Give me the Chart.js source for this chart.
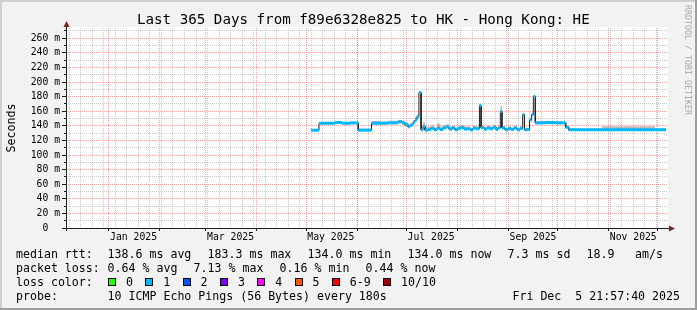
<!DOCTYPE html>
<html>
<head>
<meta charset="utf-8">
<script src="https://cdn.jsdelivr.net/npm/chart.js@4.4.0/dist/chart.umd.min.js"></script>
<style>
  html, body { margin: 0; padding: 0; background: #f2f2f2; }
  #wrap { position: relative; width: 697px; height: 310px; overflow: hidden; font-family: 'DejaVu Sans Mono', monospace; color: #000; }
  #wrap canvas { position: absolute; left: 0; top: 0; }
  .t { position: absolute; white-space: pre; font-size: 11.6px; line-height: 14px; }
  .box { position: absolute; width: 6px; height: 6px; border: 1px solid #000; }
  #title { position: absolute; left: 137px; top: 11px; font-size: 14.2px; line-height: 16px; white-space: pre; }
  #ylab { position: absolute; left: -19px; top: 121px; width: 60px; text-align: center; font-size: 11.6px; line-height: 14px; transform: rotate(-90deg); }
  #wm { position: absolute; left: 633px; top: 55px; width: 110px; text-align: center; font-size: 8.3px; line-height: 10px; color: #a8a8a8; transform: rotate(90deg); white-space: pre; }
</style>
</head>
<body>
<div id="wrap">
  <canvas id="rttChart" width="697" height="310"></canvas>
  <div id="title">Last 365 Days from f89e6328e825 to HK - Hong Kong: HE</div>
  <div id="ylab">Seconds</div>
  <div id="wm">RRDTOOL / TOBI OETIKER</div>
  <div id="legend"></div>
</div>
<script>
// window starts Fri Dec 5 21:57:40 2024, 365 days
const startTime = Date.UTC(2024, 11, 5, 21, 57, 40);

// days since window start where each median step begins
const stepDays = [149.0, 153.9, 158.8, 163.6, 167.9, 172.8, 177.8, 185.9, 191.0, 195.9,
  202.0, 204.4, 206.2, 208.1, 209.3, 211.1, 212.3, 213.5, 214.7, 216.0,
  217.2, 218.4, 220.2, 222.0, 223.9, 225.7, 227.5, 229.3, 231.2, 233.0,
  234.8, 236.6, 238.5, 240.3, 242.1, 243.9, 245.8, 247.6, 249.4, 251.5,
  252.5, 254.3, 256.1, 257.9, 259.8, 261.6, 262.8, 264.2, 265.2, 267.1,
  268.9, 270.7, 272.5, 274.4, 276.2, 277.8, 278.9, 280.4, 282.0, 283.2,
  284.3, 285.5, 291.4, 297.5, 304.0, 305.8, 325.9, 358.3, 365.0];

// median rtt in ms
const medianMs = [134, 143.5, 143.5, 144.5, 143.5, 144, 134, 143.5, 143.5, 144,
  145.5, 144, 141.5, 138.5, 141, 145, 148, 152.5, 185.5, 134.5,
  139, 134, 135, 136.5, 134.5, 137, 135, 137, 138.5, 135.5,
  137, 134.5, 136.5, 137.5, 135.5, 136, 134.5, 137, 136, 167.5,
  137.5, 135.5, 137, 136, 138, 135, 137, 159.5, 137, 134.5,
  136, 135, 137, 134.5, 136.5, 155, 134.5, 135, 148, 155,
  180, 144, 144.5, 144, 138, 134.5, 134.5, 134.5, 134.5];

// upper and lower edge of the smoke (ping spread) in ms
const smokeHiMs = [135.5, 145, 145, 146.5, 145, 145.5, 136, 146.5, 146, 147,
  148, 146.5, 145, 141, 143, 147.5, 152, 156, 187, 141,
  145, 139, 139, 140.5, 138, 143, 139, 141, 142, 139,
  140, 138, 140, 141, 139, 139, 137.5, 140, 139, 170,
  140, 138, 140, 139, 141, 138, 140, 167, 140, 137,
  139, 138, 140, 137, 139, 158, 136.5, 137, 150, 157,
  182, 146.5, 146.5, 146, 140, 136, 139.5, 136, 136];
const smokeLoMs = [133.5, 142.5, 142.5, 143.5, 142.5, 143, 133.5, 142.5, 142.5, 143,
  144.5, 143, 140.5, 137.5, 140, 144, 147, 151.5, 184, 133.5,
  138, 133, 134, 135.5, 133.5, 136, 134, 136, 137.5, 134.5,
  136, 133.5, 135.5, 136.5, 134.5, 135, 133.5, 136, 135, 166,
  136.5, 134.5, 136, 135, 137, 134, 136, 158, 136, 133.5,
  135, 134, 136, 133.5, 135.5, 153.5, 133.5, 134, 147, 154,
  178.5, 143, 143.5, 143, 137, 133.5, 133.5, 133.5, 133.5];

const yTickMs = [0, 20, 40, 60, 80, 100, 120, 140, 160, 180, 200, 220, 240, 260];
const monthLabels = ['Jan 2025', 'Mar 2025', 'May 2025', 'Jul 2025', 'Sep 2025', 'Nov 2025'];
const monthLabelIdx = [0, 2, 4, 6, 8, 10];

const lossColors = ['#26ff00', '#00b8ff', '#0059ff', '#7e00ff', '#ff00ff', '#ff5500', '#ff0000', '#a10000'];
const lossLabels = ['0', '1', '2', '3', '4', '5', '6-9', '10/10'];

const dayOf = (y, m, d) => (Date.UTC(y, m, d) - startTime) / 864e5;
const labelDays = monthLabelIdx.map(m => dayOf(2025, m, 16));
const monthStarts = [];
for (let m = 0; m < 12; m++) monthStarts.push(dayOf(2025, m, 1));
const weekStarts = [];
for (let d = dayOf(2024, 11, 8); d < 365; d += 7) weekStarts.push(d);

// turn step starts into explicit horizontal pieces
function stepPoints(vals) {
  const pts = [];
  for (let i = 0; i < stepDays.length - 1; i++) {
    pts.push({ x: stepDays[i], y: vals[i] });
    pts.push({ x: stepDays[i + 1], y: vals[i] });
  }
  return pts;
}

const W = 697, H = 310, plotRight = 668;
const crisp = p => Math.floor(p) + 0.5;

const rrdFrame = {
  id: 'rrdFrame',
  beforeDraw(chart) {
    const { ctx, chartArea: a, scales: { x, y } } = chart;
    ctx.save();
    ctx.fillStyle = '#f2f2f2';
    ctx.fillRect(0, 0, W, H);
    ctx.fillStyle = '#cfcfcf';
    ctx.fillRect(0, 0, W, 2);
    ctx.fillRect(0, 0, 2, H);
    ctx.fillStyle = '#9e9e9e';
    ctx.fillRect(0, H - 2, W, 2);
    ctx.fillRect(W - 2, 0, 2, H);
    ctx.fillStyle = '#ffffff';
    ctx.fillRect(a.left, a.top - 1, plotRight - a.left, a.bottom - a.top + 1);

    ctx.lineWidth = 1;
    ctx.setLineDash([1, 1]);
    // minor grid
    ctx.strokeStyle = 'rgba(143,143,143,0.45)';
    for (let v = 10; v < y.max; v += 20) {
      const py = crisp(y.getPixelForValue(v));
      ctx.beginPath(); ctx.moveTo(a.left, py); ctx.lineTo(plotRight, py); ctx.stroke();
    }
    weekStarts.forEach(d => {
      const px = crisp(x.getPixelForValue(d));
      ctx.beginPath(); ctx.moveTo(px, a.top); ctx.lineTo(px, a.bottom); ctx.stroke();
    });
    // major grid
    ctx.strokeStyle = 'rgba(222,79,79,0.5)';
    yTickMs.forEach(v => {
      if (v === 0) return;
      const py = crisp(y.getPixelForValue(v));
      ctx.beginPath(); ctx.moveTo(a.left, py); ctx.lineTo(plotRight, py); ctx.stroke();
    });
    monthStarts.forEach(d => {
      const px = crisp(x.getPixelForValue(d));
      ctx.beginPath(); ctx.moveTo(px, a.top); ctx.lineTo(px, a.bottom); ctx.stroke();
    });
    ctx.restore();
  },
  afterDatasetsDraw(chart) {
    const { ctx, chartArea: a, scales: { x, y } } = chart;
    ctx.save();
    ctx.lineWidth = 1;
    ctx.strokeStyle = '#1f1f1f';
    // tick marks
    yTickMs.forEach(v => {
      const py = crisp(y.getPixelForValue(v));
      ctx.beginPath(); ctx.moveTo(a.left - 4, py); ctx.lineTo(a.left, py); ctx.stroke();
    });
    for (let v = 10; v < y.max; v += 20) {
      const py = crisp(y.getPixelForValue(v));
      ctx.beginPath(); ctx.moveTo(a.left - 2, py); ctx.lineTo(a.left, py); ctx.stroke();
    }
    monthStarts.forEach(d => {
      const px = crisp(x.getPixelForValue(d));
      ctx.beginPath(); ctx.moveTo(px, a.bottom); ctx.lineTo(px, a.bottom + 3); ctx.stroke();
    });
    // axes
    const ax = crisp(a.left), ay = crisp(a.bottom);
    ctx.beginPath(); ctx.moveTo(ax, a.bottom + 3); ctx.lineTo(ax, a.top - 2); ctx.stroke();
    ctx.beginPath(); ctx.moveTo(a.left - 4, ay); ctx.lineTo(plotRight + 2, ay); ctx.stroke();
    // arrows
    ctx.fillStyle = '#801f1f';
    ctx.beginPath(); ctx.moveTo(ax - 3, a.top - 1); ctx.lineTo(ax + 3, a.top - 1); ctx.lineTo(ax, a.top - 7); ctx.closePath(); ctx.fill();
    ctx.beginPath(); ctx.moveTo(plotRight + 1, ay - 3); ctx.lineTo(plotRight + 1, ay + 3); ctx.lineTo(plotRight + 7, ay); ctx.closePath(); ctx.fill();
    ctx.restore();
  }
};

const tickFont = { family: "'DejaVu Sans Mono', monospace", size: 9.75 };

new Chart(document.getElementById('rttChart'), {
  type: 'line',
  data: {
    datasets: [
      { data: stepPoints(smokeLoMs), borderWidth: 0, pointRadius: 0, fill: false, order: 4 },
      { data: stepPoints(smokeHiMs), borderWidth: 0, pointRadius: 0, fill: '-1',
        backgroundColor: 'rgba(160,160,160,0.7)', order: 3 },
      { data: stepPoints(medianMs), borderColor: '#202020', borderWidth: 1, pointRadius: 0, fill: false, order: 2 },
      { data: stepPoints(medianMs), borderColor: lossColors[1], borderWidth: 3, pointRadius: 0, fill: false,
        borderCapStyle: 'butt', order: 1,
        segment: { borderColor: c => c.p0.parsed.y === c.p1.parsed.y ? lossColors[1] : 'rgba(0,0,0,0)' } }
    ]
  },
  options: {
    responsive: false,
    devicePixelRatio: 1,
    animation: false,
    events: [],
    layout: { padding: { left: 0, right: W - 666, top: 28, bottom: 62 } },
    plugins: { legend: { display: false }, tooltip: { enabled: false } },
    elements: { line: { tension: 0 } },
    scales: {
      x: {
        type: 'linear', min: 0, max: 365,
        grid: { display: false, drawTicks: false }, border: { display: false },
        afterFit: s => { s.height = 20; },
        afterBuildTicks: s => { s.ticks = labelDays.map(v => ({ value: v })); },
        ticks: { autoSkip: false, maxRotation: 0, minRotation: 0, padding: 4, color: '#000', font: tickFont,
          callback: (v, i) => monthLabels[i] }
      },
      y: {
        type: 'linear', min: 0, max: 274,
        grid: { display: false, drawTicks: false }, border: { display: false },
        afterFit: s => { s.width = 66; },
        afterBuildTicks: s => { s.ticks = yTickMs.map(v => ({ value: v })); },
        ticks: { autoSkip: false, padding: 6, color: '#000', font: tickFont,
          callback: v => v === 0 ? '0  ' : v + ' m' }
      }
    }
  },
  plugins: [rrdFrame]
});

// legend text below the graph
const legend = document.getElementById('legend');
function put(text, left, cy) {
  const el = document.createElement('div');
  el.className = 't';
  el.textContent = text;
  el.style.left = left + 'px';
  el.style.top = (cy - 7) + 'px';
  legend.appendChild(el);
  return el;
}
put('median rtt:', 16, 254);
[['138.6 ms avg', 107.6], ['183.3 ms max', 207.6], ['134.0 ms min', 307.6], ['134.0 ms now', 407.6],
 ['7.3 ms sd', 507.6], ['18.9', 586.6], ['am/s', 635]].forEach(([s, x]) => put(s, x, 254));
put('packet loss:', 16, 268);
[['0.64 % avg', 107.6], ['7.13 % max', 193.6], ['0.16 % min', 279.6], ['0.44 % now', 365.6]]
  .forEach(([s, x]) => put(s, x, 268));
put('loss color:', 16, 282);
let bx = 108;
lossLabels.forEach((lab, i) => {
  const b = document.createElement('div');
  b.className = 'box';
  b.style.left = bx + 'px';
  b.style.top = '278px';
  b.style.background = lossColors[i];
  legend.appendChild(b);
  put(lab, bx + 18, 282);
  bx += 18 + lab.length * 7 + 12.3;
});
put('probe:', 16, 296);
put('10 ICMP Echo Pings (56 Bytes) every 180s', 107.6, 296);
const dt = put('Fri Dec  5 21:57:40 2025', 0, 296);
dt.style.left = 'auto';
dt.style.right = '17px';
</script>
</body>
</html>
